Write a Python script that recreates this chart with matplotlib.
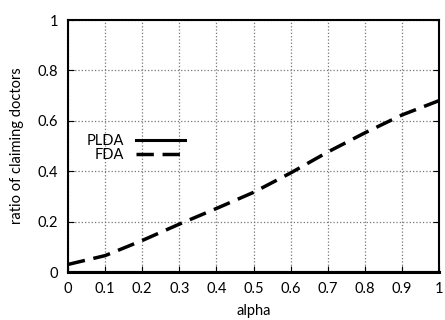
import numpy as np
import matplotlib
matplotlib.use('Agg')
import matplotlib.pyplot as plt

plt.rcParams['font.family'] = ['Lato', 'DejaVu Sans']

alpha = [0.0, 0.1, 0.2, 0.3, 0.4, 0.5, 0.6, 0.7, 0.8, 0.9, 1.0]
plda = [0.0, 0.0, 0.0, 0.0, 0.0, 0.0, 0.0, 0.0, 0.0, 0.0, 0.0]
fda = [0.03, 0.065, 0.125, 0.19, 0.252, 0.316, 0.393, 0.476, 0.552, 0.623, 0.68]

xticks = [0, 0.1, 0.2, 0.3, 0.4, 0.5, 0.6, 0.7, 0.8, 0.9, 1]
xlabels = ['0', '0.1', '0.2', '0.3', '0.4', '0.5', '0.6', '0.7', '0.8', '0.9', '1']
yticks = [0, 0.2, 0.4, 0.6, 0.8, 1]
ylabels = ['0', '0.2', '0.4', '0.6', '0.8', '1']

fig = plt.figure(figsize=(4.45, 3.2), dpi=100)
ax = fig.add_axes([68/445, 48/320, 371/445, 252/320])

ax.plot(alpha, plda, color='black', linewidth=2.2, label='PLDA', clip_on=False)
ax.plot(alpha, fda, color='black', linewidth=2.5, dashes=(5, 2.5), label='FDA')

ax.set_xlim(0, 1)
ax.set_ylim(0, 1)
ax.set_xticks(xticks)
ax.set_xticklabels(xlabels)
ax.set_yticks(yticks)
ax.set_yticklabels(ylabels)
ax.tick_params(direction='in', right=True, top=False, labelsize=10.5, length=4, pad=7)
ax.grid(True, linestyle=':', color='#777777', linewidth=0.9)
for s in ax.spines.values():
    s.set_linewidth(1.5)

ax.set_xlabel('alpha', fontsize=10.5, labelpad=6)
ax.set_ylabel('ratio of claiming doctors', fontsize=10.5, labelpad=10)

leg = ax.legend(loc='upper left', bbox_to_anchor=(0.05, 0.548), frameon=False,
                markerfirst=False, fontsize=10.5, handlelength=3.4,
                labelspacing=0.02, borderaxespad=0, borderpad=0)

fig.savefig('out.png', dpi=100)
